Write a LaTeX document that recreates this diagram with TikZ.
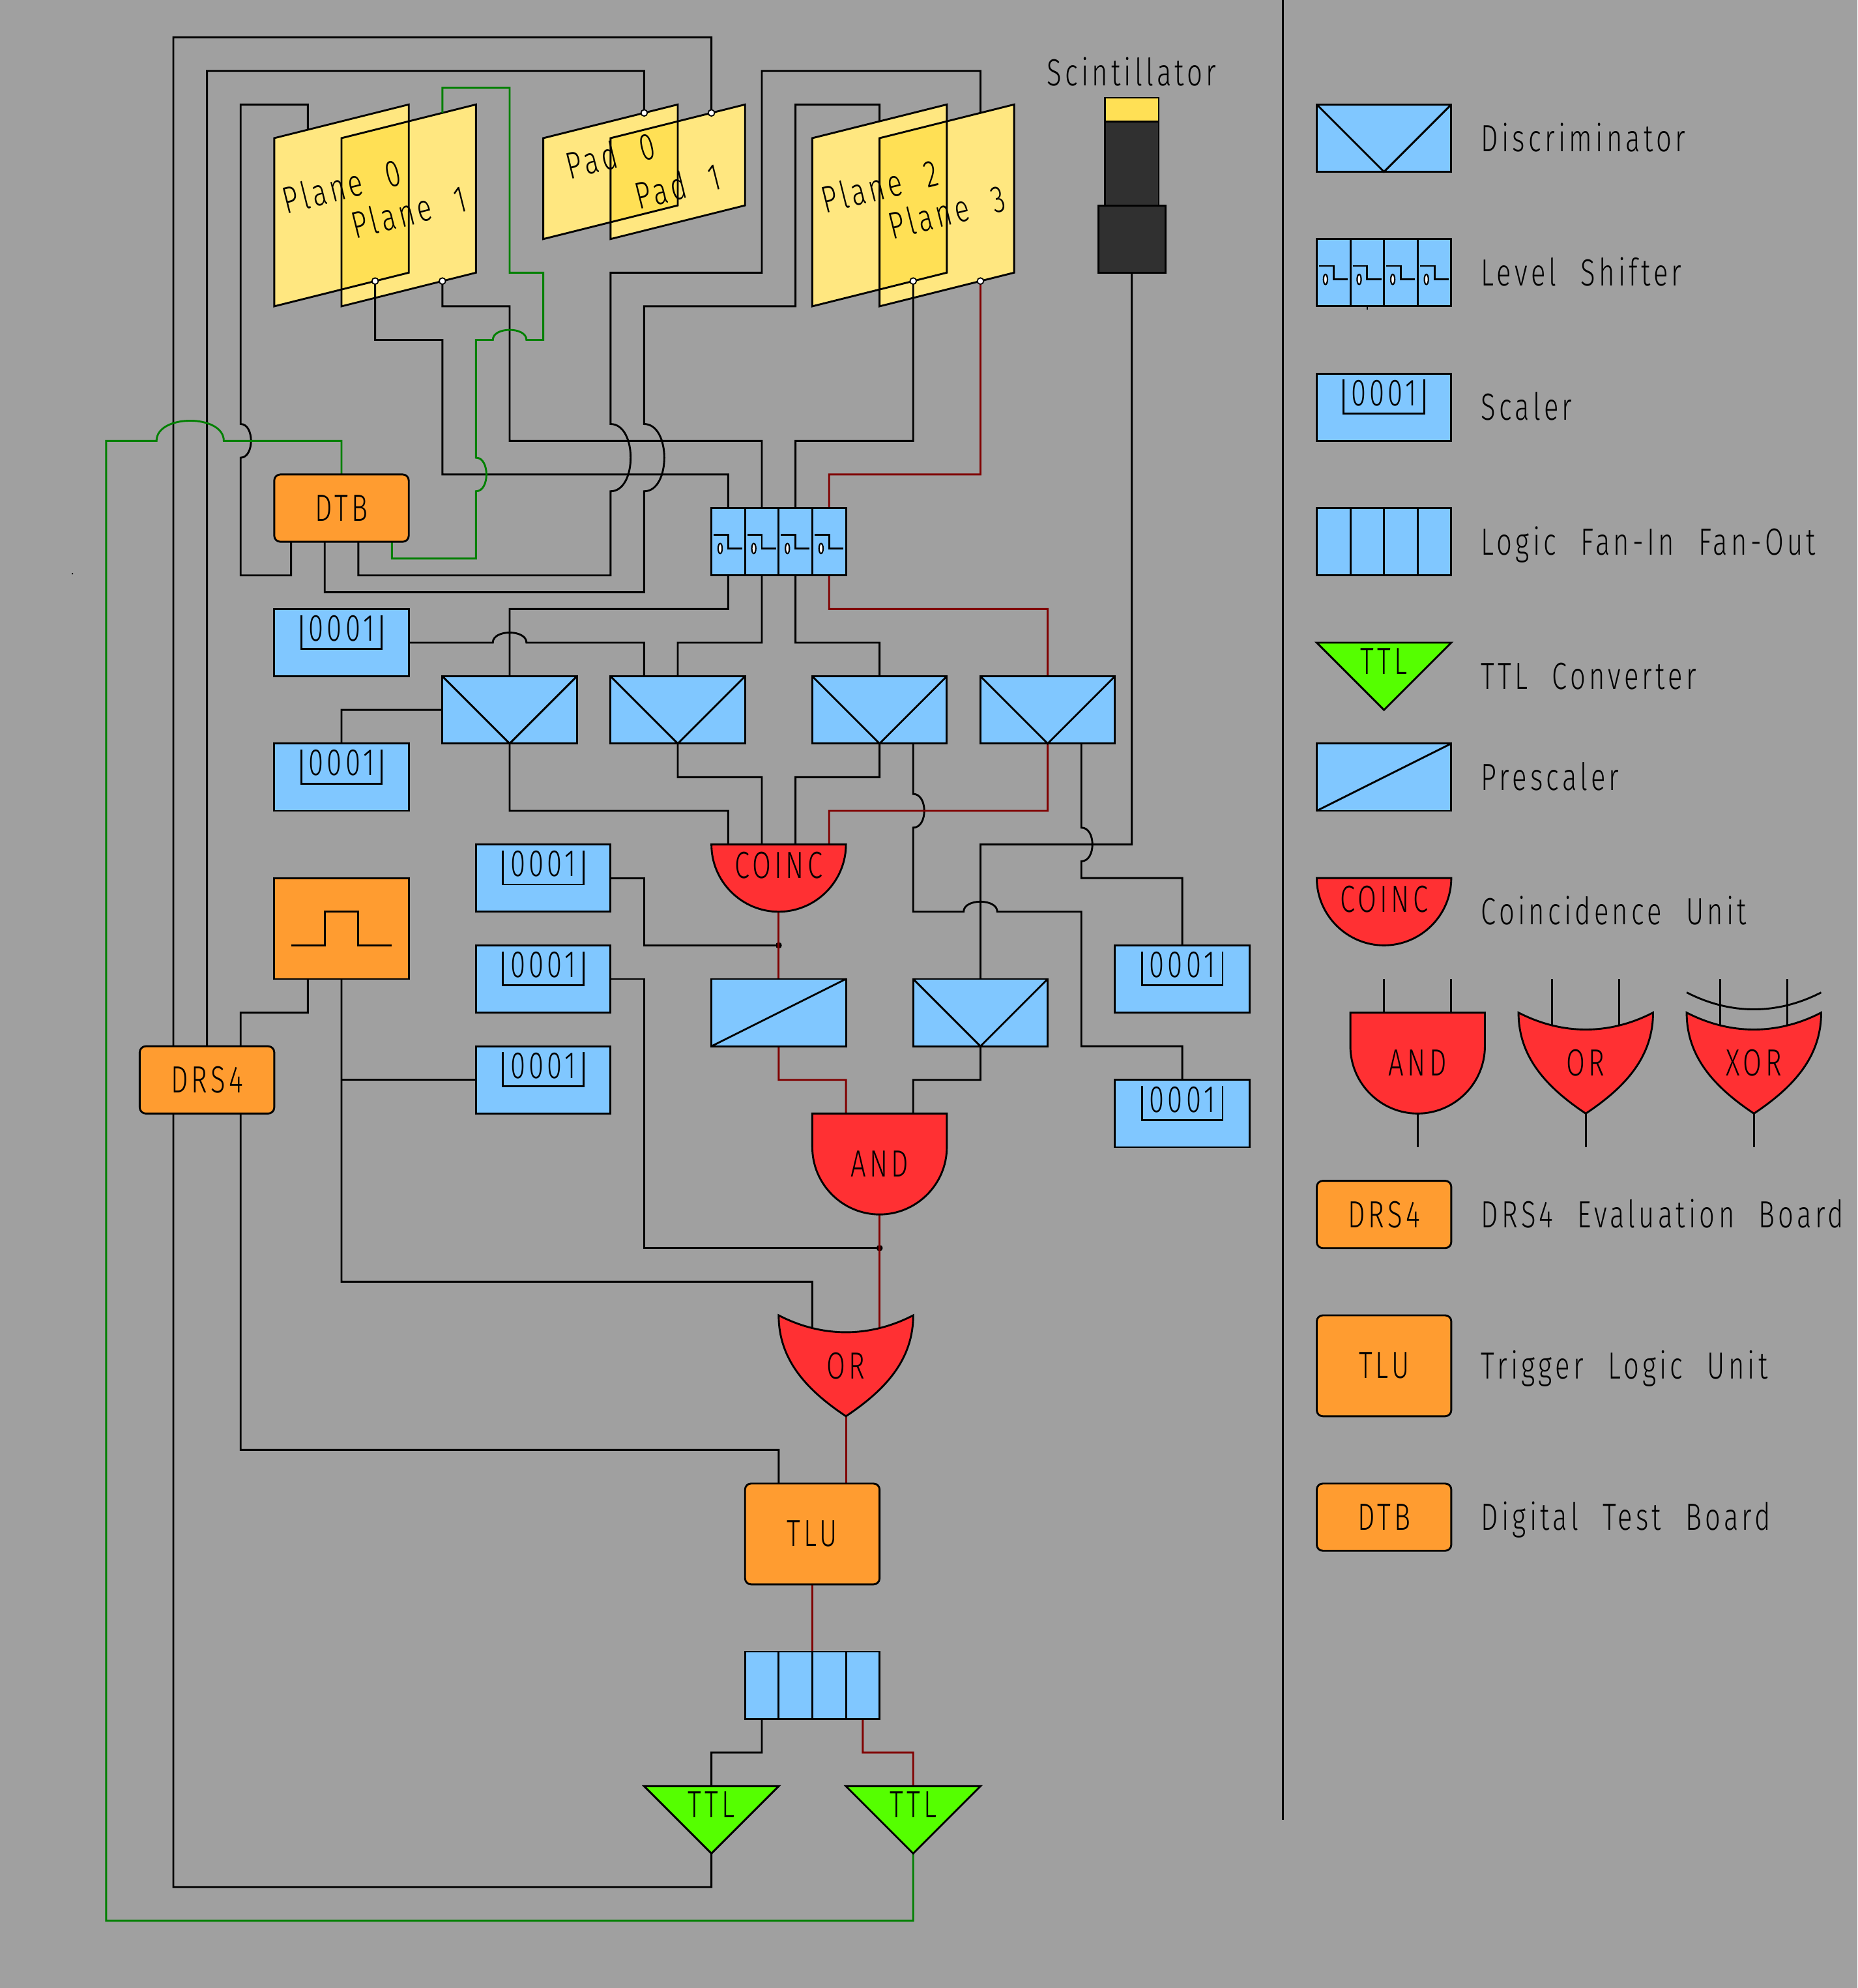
\documentclass[tikz,border=0pt]{standalone}
\usepackage{fontspec}
\newfontfamily\lab{Fira Sans}[UprightFont=* Light,FakeStretch=0.72,LetterSpace=9,WordSpace=2.2]
\newcommand\labf{\lab\fontsize{32}{36}\selectfont}
\definecolor{bgc}{HTML}{A0A0A0}
\definecolor{blu}{HTML}{80C7FF}
\definecolor{rdd}{HTML}{FF3033}
\definecolor{org}{HTML}{FF9C30}
\definecolor{lim}{HTML}{55FF00}
\definecolor{yl}{HTML}{FFE780}
\definecolor{yd}{HTML}{FFE055}
\definecolor{wgr}{HTML}{008000}
\definecolor{wrd}{HTML}{800000}
\definecolor{drk}{HTML}{303030}
\pgfdeclarelayer{base}\pgfdeclarelayer{wires}\pgfsetlayers{base,wires,main}
\tikzset{
 ln/.style={draw=black,line width=1.6pt,line join=miter},
 wire/.style={ln},
 rwire/.style={ln,draw=wrd},
 gwire/.style={ln,draw=wgr},
 every node/.style={font=\labf,inner sep=0pt,outer sep=0pt},
 blk/.style={ln,fill=blu,minimum width=4cm,minimum height=2cm,anchor=north west},
 orgbk/.style={ln,fill=org,rounded corners=.18cm,minimum width=4cm,anchor=north west},
 box/.style={minimum width=4cm,anchor=north west},
 gate/.style={ln,fill=rdd},
 pin/.style={circle,draw=black,line width=1pt,fill=white,minimum size=.19cm},
 dot/.style={circle,fill=black,minimum size=.19cm},
 legtext/.style={anchor=base west},
 plt/.style={rotate=14},
}
% hops
\newcommand\wvh[4]{-- (#1,#2-#3) .. controls (#1+1.33*#4,#2-#3) and (#1+1.33*#4,#2+#3) .. (#1,#2+#3)}
\newcommand\whh[4]{-- (#1-#3,#2) .. controls (#1-#3,#2-1.33*#4) and (#1+#3,#2-1.33*#4) .. (#1+#3,#2)}
% blocks
\newcommand\discb[3]{\node[blk] (#1) at (#2,#3) {};\draw[ln] (#1.north west) -- (#1.south) -- (#1.north east);}
\newcommand\presc[3]{\node[blk] (#1) at (#2,#3) {};\draw[ln] (#1.south west) -- (#1.north east);}
\newcommand\fanb[3]{\node[blk] (#1) at (#2,#3) {};\foreach \i in {1,2,3}{\draw[ln] (#2+\i,#3) -- (#2+\i,#3+2);}}
\newcommand\levsh[3]{\node[blk] (#1) at (#2,#3) {};\foreach \i in {1,2,3}{\draw[ln] (#2+\i,#3) -- (#2+\i,#3+2);}
 \foreach \i in {0,1,2,3}{\draw[ln] (#2+\i+.07,#3+.8) -- (#2+\i+.5,#3+.8) -- (#2+\i+.5,#3+1.2) -- (#2+\i+.92,#3+1.2);
 \draw[line width=1.2pt,fill=white] (#2+\i+.26,#3+1.2) ellipse (.06 and .15);}}
\newcommand\scal[3]{\node[blk] (#1) at (#2,#3) {};\draw[ln] (#2+.8,#3+.18) -- (#2+.8,#3+1.19) -- (#2+3.2,#3+1.19) -- (#2+3.2,#3+.18);\node (#1t) at (#2+2,#3+.58) {0001};}
\newcommand\orgb[5]{\node[orgbk,minimum height=#4cm] (#1) at (#2,#3) {#5};}
\newcommand\andg[4]{\path[gate] (#2,#3) -- (#2+4,#3) -- (#2+4,#3+1) .. controls (#2+4,#3+2.1) and (#2+3.1,#3+3) .. (#2+2,#3+3) .. controls (#2+.9,#3+3) and (#2,#3+2.1) .. (#2,#3+1) -- cycle;\node[box,minimum height=3cm] (#1) at (#2,#3) {#4};}
\newcommand\orgate[4]{\path[gate] (#2,#3) .. controls (#2+1.3,#3+.67) and (#2+2.7,#3+.67) .. (#2+4,#3) .. controls (#2+4,#3+1.3) and (#2+3.2,#3+2.2) .. (#2+2,#3+3) .. controls (#2+.8,#3+2.2) and (#2,#3+1.3) .. cycle;\node[box,minimum height=3cm] (#1) at (#2,#3) {#4};}
\newcommand\coincg[3]{\path[gate] (#2,#3) -- (#2+4,#3) .. controls (#2+4,#3+1.1) and (#2+3.1,#3+2) .. (#2+2,#3+2) .. controls (#2+.9,#3+2) and (#2,#3+1.1) .. cycle;\node[box,minimum height=2cm] (#1) at (#2,#3) {};\node (#1t) at (#2+2,#3+.62) {COINC};}
\newcommand\ttlg[3]{\path[ln,fill=lim] (#2,#3) -- (#2+4,#3) -- (#2+2,#3+2) -- cycle;\node[box,minimum height=2cm] (#1) at (#2,#3) {};\node (#1t) at (#2+2,#3+.55) {TTL};}
\newcommand\planes[2]{\fill[yl] (#1,4) -- (#1+4,3) -- (#1+4,3+#2) -- (#1,4+#2) -- cycle;\fill[yl] (#1+2,4) -- (#1+6,3) -- (#1+6,3+#2) -- (#1+2,4+#2) -- cycle;
 \fill[yd] (#1+2,4) -- (#1+4,3.5) -- (#1+4,3+#2) -- (#1+2,3.5+#2) -- cycle;
 \draw[ln] (#1,4) -- (#1+4,3) -- (#1+4,3+#2) -- (#1,4+#2) -- cycle;\draw[ln] (#1+2,4) -- (#1+6,3) -- (#1+6,3+#2) -- (#1+2,4+#2) -- cycle;}
\newcommand\legl[3]{\node[legtext] (#1) at (43.89,#2+.39) {#3};}
\begin{document}
\begin{tikzpicture}[x=1cm,y=-1cm]
\useasboundingbox (-0.155,-0.107) rectangle (55.08,59);
\begin{pgfonlayer}{base}
\fill[bgc] (-0.155,-0.107) rectangle (55.08,59);
\planes{8}{5}\planes{16}{3}\planes{24}{5}
\end{pgfonlayer}
\node[plt] (tp0) at (10,5.42) {Plane 0};
\node[plt] (tp1) at (12,6.18) {Plane 1};
\node[plt] (tpd0) at (18,4.5) {Pad 0};
\node[plt] (tpd1) at (20,5.42) {Pad 1};
\node[plt] (tp2) at (26,5.42) {Plane 2};
\node[plt] (tp3) at (28,6.18) {Plane 3};
\node[pin] (p0b) at (11,8.25) {};
\node[pin] (p1b) at (13,8.25) {};
\node[pin] (p2b) at (27,8.25) {};
\node[pin] (p3b) at (29,8.25) {};
\node[pin] (pd0t) at (19,3.25) {};
\node[pin] (pd1t) at (21,3.25) {};
\coordinate (p0t) at (9,3.75);
\coordinate (p1t) at (13,3.25);
\coordinate (p2t) at (26,3.5);
\coordinate (p3t) at (29,3.25);
% separator and speck
\coordinate (sepa) at (38,-0.107);\coordinate (sepb) at (38,54);
\draw[ln] (sepa) -- (sepb);
\fill (2,16.95) circle (.025);
% scintillator
\node (sctxt) at (33.5,2.03) {Scintillator};
\fill[yd,draw=black,line width=1.6pt] (32.7,2.8) rectangle (34.3,3.5);
\fill[drk,draw=black,line width=1.6pt] (32.7,3.5) rectangle (34.3,6);
\node[ln,fill=drk,minimum width=2cm,minimum height=2cm,anchor=north west] (sc) at (32.5,6) {};
% blocks
\orgb{dtb}{8}{14}{2}{DTB}
\levsh{ls}{21}{15}
\scal{s1}{8}{18}\scal{s2}{8}{22}\scal{s3}{14}{25}\scal{s4}{14}{28}\scal{s5}{14}{31}
\scal{s6}{33}{28}\scal{s7}{33}{32}
\discb{d1}{13}{20}\discb{d2}{18}{20}\discb{d3}{24}{20}\discb{d4}{29}{20}\discb{d5}{27}{29}
\coincg{co}{21}{25}
\presc{ps}{21}{29}
\node[ln,fill=org,minimum width=4cm,minimum height=3cm,anchor=north west] (pg) at (8,26) {};
\draw[ln] (8.5,28) -- (9.5,28) -- (9.5,27) -- (10.5,27) -- (10.5,28) -- (11.5,28);
\orgb{drs}{4}{31}{2}{DRS4}
\andg{an}{24}{33}{AND}
\orgate{orr}{23}{39}{OR}
\orgb{tlu}{22}{44}{3}{TLU}
\fanb{fan}{22}{49}
\ttlg{ttla}{19}{53}\ttlg{ttlb}{25}{53}
% legend
\discb{ld}{39}{3}\legl{lt1}{4}{Discriminator}
\levsh{lls}{39}{7}\legl{lt2}{8}{Level Shifter}
\scal{lsc}{39}{11}\legl{lt3}{12}{Scaler}
\fanb{lfan}{39}{15}\legl{lt4}{16}{Logic Fan-In Fan-Out}
\ttlg{lttl}{39}{19}\legl{lt5}{20}{TTL Converter}
\presc{lps}{39}{22}\legl{lt6}{23}{Prescaler}
\coincg{lco}{39}{26}\legl{lt7}{27}{Coincidence Unit}
\andg{lan}{40}{30}{AND}
\orgate{lor}{45}{30}{OR}
\orgate{lxo}{50}{30}{XOR}
\orgb{ldrs}{39}{35}{2}{DRS4}\legl{lt8}{36}{DRS4 Evaluation Board}
\orgb{ltlu}{39}{39}{3}{TLU}\legl{lt9}{40.5}{Trigger Logic Unit}
\orgb{ldtb}{39}{44}{2}{DTB}\legl{lt10}{45}{Digital Test Board}
\coordinate (ltick) at (40.5,9.1);
\draw[line width=1pt] (lls.south -| ltick) -- (ltick);
\begin{pgfonlayer}{wires}
% legend pins
\draw[wire] ([xshift=-1cm]lan.north) -- ++(0,-1);
\draw[wire] ([xshift=1cm]lan.north) -- ++(0,-1);
\draw[wire] (lan.south) -- ++(0,1);
\draw[wire] ([xshift=-1cm,yshift=-.7cm]lor.north) -- ++(0,-1.7);
\draw[wire] ([xshift=1cm,yshift=-.7cm]lor.north) -- ++(0,-1.7);
\draw[wire] (lor.south) -- ++(0,1);
\draw[wire] ([xshift=-1cm,yshift=-.7cm]lxo.north) -- ++(0,-1.7);
\draw[wire] ([xshift=1cm,yshift=-.7cm]lxo.north) -- ++(0,-1.7);
\draw[wire] (lxo.south) -- ++(0,1);
\draw[wire] (50,29.4) .. controls (51.3,30.07) and (52.7,30.07) .. (54,29.4);
% junctions
\node[dot] (ja) at (23,28) {};
\node[dot] (jb) at (26,37) {};
\coordinate (tf) at (10,32);
% black
\draw[wire] (ttla.south) -- (21,56) -- (5,56) -- ([xshift=-1cm]drs.south);
\draw[wire] ([xshift=-1cm]drs.north) -- (5,1) -- (21,1) -- (pd1t.north);
\draw[wire] (drs.north) -- (6,2) -- (19,2) -- (pd0t.north);
\draw[wire] (p0t) -- (9,3) -- (7,3) \wvh{7}{13}{.5}{.31} -- (7,17) -- (8.5,17) -- ([xshift=-1.5cm]dtb.south);
\draw[wire] ([xshift=-.5cm]dtb.south) -- (9.5,17.5) -- (19,17.5) \wvh{19}{13.5}{-1}{.6} -- (19,9) -- (23.5,9) -- (23.5,3) -- (26,3) -- (p2t);
\draw[wire] ([xshift=.5cm]dtb.south) -- (10.5,17) -- (18,17) \wvh{18}{13.5}{-1}{.6} -- (18,8) -- (22.5,8) -- (22.5,2) -- (29,2) -- (p3t);
\draw[wire] (p0b.south) -- (11,10) -- (13,10) -- (13,14) -- (21.5,14) -- ([xshift=-1.5cm]ls.north);
\draw[wire] (p1b.south) -- (13,9) -- (15,9) -- (15,13) -- (22.5,13) -- ([xshift=-.5cm]ls.north);
\draw[wire] (p2b.south) -- (27,13) -- (23.5,13) -- ([xshift=.5cm]ls.north);
\draw[wire] ([xshift=-1.5cm]ls.south) -- (21.5,18) -- (15,18) -- (d1.north);
\draw[wire] (s1.east) -- (14.5,19) \whh{15}{19}{.5}{.3} -- (19,19) -- ([xshift=-1cm]d2.north);
\draw[wire] ([xshift=-.5cm]ls.south) -- (22.5,19) -- (20,19) -- (d2.north);
\draw[wire] ([xshift=.5cm]ls.south) -- (23.5,19) -- (26,19) -- (d3.north);
\draw[wire] (s2.north) -- (10,21) -- (d1.west);
\draw[wire] (d1.south) -- (15,24) -- (21.5,24) -- ([xshift=-1.5cm]co.north);
\draw[wire] (d2.south) -- (20,23) -- (22.5,23) -- ([xshift=-.5cm]co.north);
\draw[wire] (d3.south) -- (26,23) -- (23.5,23) -- ([xshift=.5cm]co.north);
\draw[wire] ([xshift=1cm]d3.south) \wvh{27}{24}{.5}{.33} -- (27,27) -- (28.5,27) \whh{29}{27}{.5}{.3} -- (32,27) -- (32,31) -- (35,31) -- (s7.north);
\draw[wire] ([xshift=1cm]d4.south) \wvh{32}{25}{.5}{.33} -- (32,26) -- (35,26) -- (s6.north);
\draw[wire] (sc.south) -- (33.5,25) -- (29,25) -- (d5.north);
\draw[wire] (d5.south) -- (29,32) -- (27,32) -- ([xshift=1cm]an.north);
\draw[wire] (s3.east) -- (19,26) -- (19,28) -- (ja);
\draw[wire] (s4.east) -- (19,29) -- (19,37) -- (jb);
\draw[wire] (pg.south) -- (10,38) -- (24,38) -- ([xshift=-1cm,yshift=-.7cm]orr.north);
\draw[wire] (s5.west) -- (tf);
\draw[wire] ([xshift=-1cm]pg.south) -- (9,30) -- (7,30) -- ([xshift=1cm]drs.north);
\draw[wire] ([xshift=1cm]drs.south) -- (7,43) -- (23,43) -- ([xshift=-1cm]tlu.north);
\draw[wire] ([xshift=-1.5cm]fan.south) -- (22.5,52) -- (21,52) -- (ttla.north);
% dark red
\draw[rwire] (p3b.south) -- (29,14) -- (24.5,14) -- ([xshift=1.5cm]ls.north);
\draw[rwire] ([xshift=1.5cm]ls.south) -- (24.5,18) -- (31,18) -- (d4.north);
\draw[rwire] (d4.south) -- (31,24) -- (24.5,24) -- ([xshift=1.5cm]co.north);
\draw[rwire] (co.south) -- (ps.north);
\draw[rwire] (ps.south) -- (23,32) -- (25,32) -- ([xshift=-1cm]an.north);
\draw[rwire] (an.south) -- ([xshift=1cm,yshift=-.7cm]orr.north);
\draw[rwire] (orr.south) -- ([xshift=1cm]tlu.north);
\draw[rwire] (tlu.south) -- (fan.north);
\draw[rwire] ([xshift=1.5cm]fan.south) -- (25.5,52) -- (27,52) -- (ttlb.north);
% green
\draw[gwire] ([xshift=1.5cm]dtb.south) -- (11.5,16.5) -- (14,16.5) \wvh{14}{14}{-.5}{.31} -- (14,10) -- (14.5,10) \whh{15}{10}{.5}{.3} -- (16,10) -- (16,8) -- (15,8) -- (15,2.5) -- (13,2.5) -- (p1t);
\draw[gwire] (dtb.north) -- (10,13) -- (6.5,13) \whh{5.5}{13}{-1}{.6} -- (3,13) -- (3,57) -- (27,57) -- (ttlb.south);
\end{pgfonlayer}
\end{tikzpicture}
\end{document}
